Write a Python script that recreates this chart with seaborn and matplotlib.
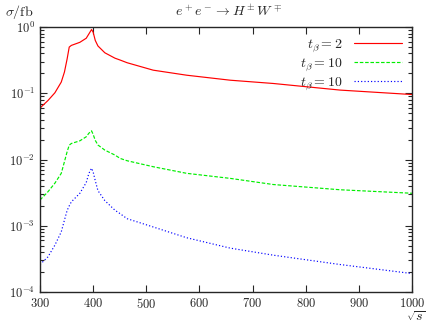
import numpy as np
import pandas as pd
import seaborn as sns
import matplotlib
matplotlib.use("Agg")
import matplotlib.pyplot as plt
from matplotlib.ticker import FuncFormatter, LogLocator, MultipleLocator

# данные
sqrt_s = [300, 315, 328, 340, 346, 351, 355, 359, 375, 387, 392, 397, 400, 404, 409,
          422, 441, 451, 464, 513, 576, 658, 739, 865, 1000]
sigma_tb2 = [0.060, 0.078, 0.102, 0.148, 0.21, 0.33, 0.50, 0.53, 0.59, 0.68, 0.79, 0.92, 0.84,
             0.63, 0.52, 0.41, 0.34, 0.318, 0.29, 0.224, 0.188, 0.158, 0.141, 0.112, 0.096]
sigma_tb10_a = [0.00245, 0.00327, 0.0044, 0.0062, 0.0093, 0.0131, 0.0165, 0.0175, 0.0192,
                0.0221, 0.025, 0.0272, 0.024, 0.0195, 0.0166, 0.0139, 0.0117, 0.0104, 0.0096,
                0.0078, 0.0062, 0.0052, 0.0042, 0.0035, 0.0031]
sigma_tb10_b = [0.00026, 0.00034, 0.00051, 0.00081, 0.00122, 0.0017, 0.002, 0.0023, 0.0031,
                0.0045, 0.0062, 0.0074, 0.0065, 0.0048, 0.0034, 0.0024, 0.00172, 0.00152,
                0.00128, 0.00096, 0.00066, 0.00046, 0.00036, 0.00026, 0.00019]
labels = [r'$t_\beta = 2$', r'$t_\beta = 10$', r'$t_\beta = 10$ ']

sns.set_style("ticks")
plt.rcParams['font.family'] = ['DejaVu Serif']
plt.rcParams['mathtext.fontset'] = 'cm'

df = pd.concat([
    pd.DataFrame({'sqrt_s': sqrt_s, 'sigma': s, 'curve': lab})
    for s, lab in zip([sigma_tb2, sigma_tb10_a, sigma_tb10_b], labels)
])

fig = plt.figure(figsize=(4.32, 3.27), dpi=100)
ax = fig.add_axes([0.0926, 0.107, 0.861, 0.81])

colors = ['#ff0000', '#00ee00', '#0000ff']
dashes = [None, (3, 1.5), (1, 1.8)]
for lab, c in zip(labels, colors):
    sub = df[df['curve'] == lab]
    sns.lineplot(data=sub, x='sqrt_s', y='sigma', color=c, lw=0.85, label=lab, ax=ax)
for ln, d in zip(ax.get_lines(), dashes):
    if d is not None:
        ln.set_dashes(d)

ax.set_yscale('log')
ax.set_xlim(300, 1000)
ax.set_ylim(1e-4, 1)
ax.xaxis.set_major_locator(MultipleLocator(100))
ax.xaxis.set_major_formatter(FuncFormatter(lambda v, p: f'${int(v)}$'))
ax.yaxis.set_major_locator(LogLocator(base=10))
ax.yaxis.set_minor_locator(LogLocator(base=10, subs=np.arange(2, 10)))
ax.yaxis.set_major_formatter(FuncFormatter(lambda v, p: f'$10^{{{int(round(np.log10(v)))}}}$'))
ax.tick_params(which='both', direction='in', top=True, right=True, labelsize=9, width=0.8)
ax.tick_params(which='major', length=5)
ax.tick_params(which='minor', length=3)
for sp in ax.spines.values():
    sp.set_linewidth(1.0)

ax.set_xlabel('')
ax.set_ylabel('')
fig.text(0.012, 0.963, r'$\sigma/\mathrm{fb}$', fontsize=10, ha='left', va='center')
fig.text(0.53, 0.963, r'$e^+e^- \to H^\pm W^\mp$', fontsize=10, ha='center', va='center')
fig.text(0.985, 0.03, r'$\sqrt{s}$', fontsize=10, ha='right', va='center')

leg = ax.legend(loc='upper right', frameon=False, markerfirst=False, fontsize=10,
                handlelength=3.5, labelspacing=0.1, borderaxespad=0.3, handletextpad=0.8)

fig.savefig('out.png', dpi=100)
